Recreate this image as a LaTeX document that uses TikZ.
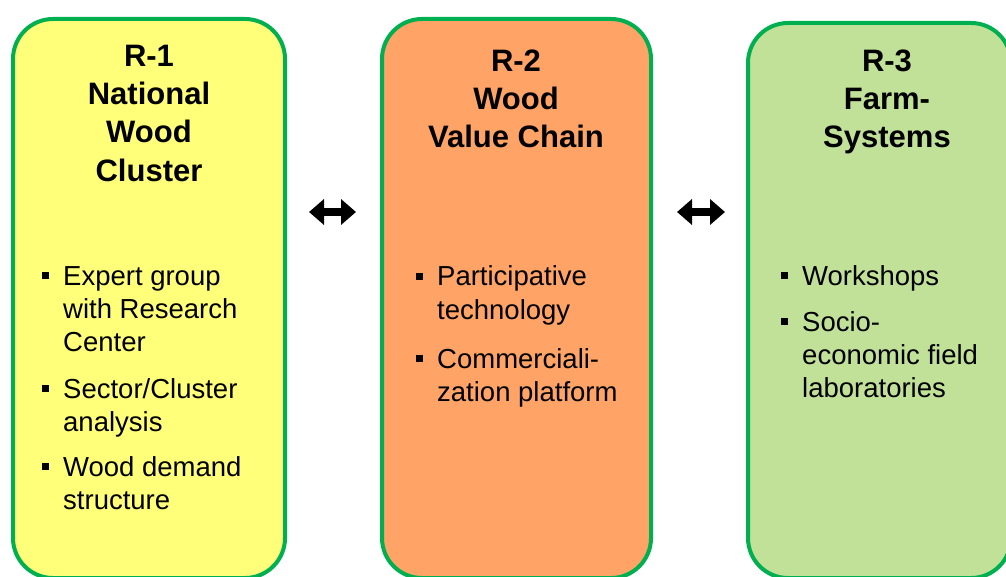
\documentclass[tikz,border=0pt]{standalone}
\usepackage{fontspec}
\setmainfont{Liberation Sans}
\usetikzlibrary{arrows.meta}
\definecolor{bordergreen}{RGB}{0,176,80}
\definecolor{fillyellow}{RGB}{255,255,122}
\definecolor{fillorange}{RGB}{255,163,102}
\definecolor{fillgreen}{RGB}{193,225,153}
\tikzset{
 rbox/.style={draw=bordergreen, line width=4pt, rounded corners=40pt, inner sep=0pt, outer sep=0pt, anchor=north west},
 titletxt/.style={font=\fontsize{31}{38}\selectfont\bfseries, anchor=base, inner sep=0pt},
 bodytxt/.style={font=\fontsize{27.5}{33}\selectfont, anchor=base west, inner sep=0pt},
 bul/.style={fill=black, minimum size=7pt, inner sep=0pt, outer sep=0pt},
 dblarrow/.style={line width=7.5pt, {Triangle[length=15pt,width=25pt]}-{Triangle[length=15pt,width=25pt]}},
}
\begin{document}
\begin{tikzpicture}[x=1pt,y=-1pt]
\useasboundingbox (0,0) rectangle (1006,577);
\clip (0,0) rectangle (1006,577);
% boxes
\node[rbox, fill=fillyellow, minimum width=272pt, minimum height=559pt] (b1) at (13,19) {};
\node[rbox, fill=fillorange, minimum width=269pt, minimum height=559pt] (b2) at (382,19) {};
\node[rbox, fill=fillgreen, minimum width=263pt, minimum height=555pt] (b3) at (748,23) {};
% titles
\node[titletxt] (t1a) at (149,67) {R-1};
\node[titletxt] (t1b) at (149,105) {National};
\node[titletxt] (t1c) at (149,143) {Wood};
\node[titletxt] (t1d) at (149,182) {Cluster};
\node[titletxt] (t2a) at (516,72) {R-2};
\node[titletxt] (t2b) at (516,110) {Wood};
\node[titletxt] (t2c) at (516,148) {Value Chain};
\node[titletxt] (t3a) at (887,72) {R-3};
\node[titletxt] (t3b) at (887,110) {Farm-};
\node[titletxt] (t3c) at (887,148) {Systems};
% box 1 bullets
\node[bul] (p1a) at (45.5,275.5) {};
\node[bodytxt] (x1a) at (63,285) {Expert group};
\node[bodytxt] (x1b) at (63,318) {with Research};
\node[bodytxt] (x1c) at (63,351) {Center};
\node[bul] (p1b) at (45.5,388.5) {};
\node[bodytxt] (x1d) at (63,398) {Sector/Cluster};
\node[bodytxt] (x1e) at (63,431) {analysis};
\node[bul] (p1c) at (45.5,466.5) {};
\node[bodytxt] (x1f) at (63,476) {Wood demand};
\node[bodytxt] (x1g) at (63,509) {structure};
% box 2 bullets
\node[bul] (p2a) at (419.5,276.5) {};
\node[bodytxt] (x2a) at (437,286) {Participative};
\node[bodytxt] (x2b) at (437,319) {technology};
\node[bul] (p2b) at (419.5,358.5) {};
\node[bodytxt] (x2c) at (437,368) {Commerciali-};
\node[bodytxt] (x2d) at (437,401) {zation platform};
% box 3 bullets
\node[bul] (p3a) at (784.5,275.5) {};
\node[bodytxt] (x3a) at (802,285) {Workshops};
\node[bul] (p3b) at (784.5,321.5) {};
\node[bodytxt] (x3b) at (802,331) {Socio-};
\node[bodytxt] (x3c) at (802,364) {economic field};
\node[bodytxt] (x3d) at (802,397) {laboratories};
% arrows
\coordinate (a1l) at (309,212);
\coordinate (a1r) at (356,212);
\coordinate (a2l) at (677,212);
\coordinate (a2r) at (725,212);
\draw[dblarrow] (a1l) -- (a1r);
\draw[dblarrow] (a2l) -- (a2r);
\end{tikzpicture}
\end{document}
